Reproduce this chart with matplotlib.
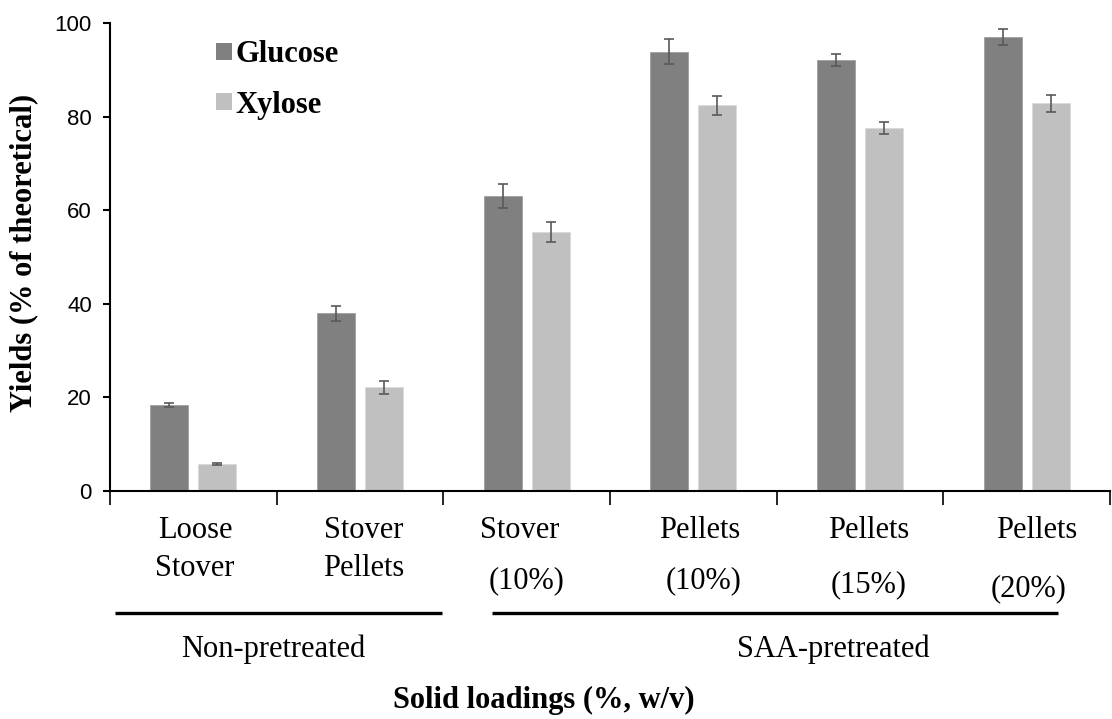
import matplotlib
matplotlib.use("Agg")
import matplotlib.pyplot as plt
import numpy as np
from matplotlib.patches import Patch

# ---- data ----
categories_line1 = ["Loose", "Stover", "Stover", "Pellets", "Pellets", "Pellets"]
categories_line2 = ["Stover", "Pellets", "(10%)", "(10%)", "(15%)", "(20%)"]
glucose = [18.4, 38.0, 63.1, 93.9, 92.1, 97.1]
glucose_err = [0.5, 1.6, 2.6, 2.6, 1.2, 1.7]
xylose = [5.7, 22.2, 55.3, 82.4, 77.5, 82.8]
xylose_err = [0.2, 1.4, 2.1, 2.0, 1.3, 1.8]
groups = ["Non-pretreated", "SAA-pretreated"]
y_ticks = [0, 20, 40, 60, 80, 100]

# ---- layout ----
W, H = 1112, 719
fig = plt.figure(figsize=(W / 100, H / 100), dpi=100)
ax_left, ax_right, ax_top, ax_bot = 110, 1110, 23, 491
ax = fig.add_axes([ax_left / W, 1 - ax_bot / H, (ax_right - ax_left) / W, (ax_bot - ax_top) / H])

serif = "Liberation Serif"
sans = "Liberation Sans"
c_glu = "#808080"
c_xyl = "#C0C0C0"
c_err = "#595959"

x = np.arange(len(glucose))
bw = 0.228
off = 0.144
ax.bar(x - off, glucose, bw, color=c_glu, edgecolor="#999999", linewidth=0.5, zorder=2)
ax.bar(x + off, xylose, bw, color=c_xyl, edgecolor="#d8d8d8", linewidth=0.5, zorder=2)
ax.errorbar(x - off, glucose, yerr=glucose_err, fmt="none", ecolor=c_err,
            elinewidth=1.2, capsize=3.8, capthick=1.2, zorder=3)
ax.errorbar(x + off, xylose, yerr=xylose_err, fmt="none", ecolor=c_err,
            elinewidth=1.2, capsize=3.8, capthick=1.2, zorder=3)

ax.set_xlim(-0.5, len(glucose) - 0.5)
ax.set_ylim(0, 100)
ax.set_yticks(y_ticks)
ax.set_yticklabels([str(t) for t in y_ticks], fontfamily=sans, fontsize=16)
ax.set_xticks(np.arange(len(glucose) + 1) - 0.5)
ax.set_xticklabels([])
ax.tick_params(axis="y", direction="out", length=5, width=1.5, pad=8)
ax.tick_params(axis="x", direction="out", length=10, width=1.2)
for s in ["top", "right"]:
    ax.spines[s].set_visible(False)
ax.spines["left"].set_linewidth(1.5)
ax.spines["bottom"].set_linewidth(1.5)


def yfrac(py):
    return (ax_bot - py) / (ax_bot - ax_top)


trans = ax.get_xaxis_transform()
# category labels (two lines, slight per-label offsets as in reference)
l1_dx = [0.01, 0.02, -0.04, 0.04, 0.05, 0.06]
l2_dx = [0.01, 0.02, 0.0, 0.06, 0.05, 0.01]
l1_y = [531, 531, 531, 531, 531, 531]
l2_y = [568, 568, 581, 581, 585, 589]
for i in range(len(categories_line1)):
    ax.text(x[i] + l1_dx[i], yfrac(l1_y[i]), categories_line1[i], transform=trans,
            ha="center", va="center", fontfamily=serif, fontsize=22, clip_on=False)
    ax.text(x[i] + l2_dx[i], yfrac(l2_y[i]), categories_line2[i], transform=trans,
            ha="center", va="center", fontfamily=serif, fontsize=22, clip_on=False)

# group lines and labels
line_y = yfrac(613)
ax.plot([-0.47, 1.49], [line_y, line_y], transform=trans, color="black", lw=2.4, clip_on=False,
        solid_capstyle="butt")
ax.plot([1.79, 5.19], [line_y, line_y], transform=trans, color="black", lw=2.4, clip_on=False,
        solid_capstyle="butt")
ax.text(0.5 - 0.02, yfrac(649), groups[0], transform=trans, ha="center", va="center",
        fontfamily=serif, fontsize=22, clip_on=False)
ax.text(3.84, yfrac(649), groups[1], transform=trans, ha="center", va="center",
        fontfamily=serif, fontsize=22, clip_on=False)

# axis titles
fig.text(544 / W, 1 - 700 / H, "Solid loadings (%, w/v)", ha="center", va="center",
         fontfamily=serif, fontsize=22, fontweight="bold")
fig.text(24 / W, 1 - 253 / H, "Yields (% of theoretical)", ha="center", va="center",
         rotation=90, fontfamily=serif, fontsize=22, fontweight="bold")

# legend
handles = [Patch(facecolor=c_glu, edgecolor="none"), Patch(facecolor=c_xyl, edgecolor="none")]
leg = ax.legend(handles, ["Glucose", "Xylose"], loc="upper left",
                bbox_to_anchor=((204 - ax_left) / (ax_right - ax_left), yfrac(28)),
                frameon=False, handlelength=0.5, handleheight=0.5, handletextpad=0.12,
                labelspacing=0.7, borderaxespad=0,
                prop={"family": serif, "size": 22, "weight": "bold"})

fig.savefig("out.png", dpi=100)
